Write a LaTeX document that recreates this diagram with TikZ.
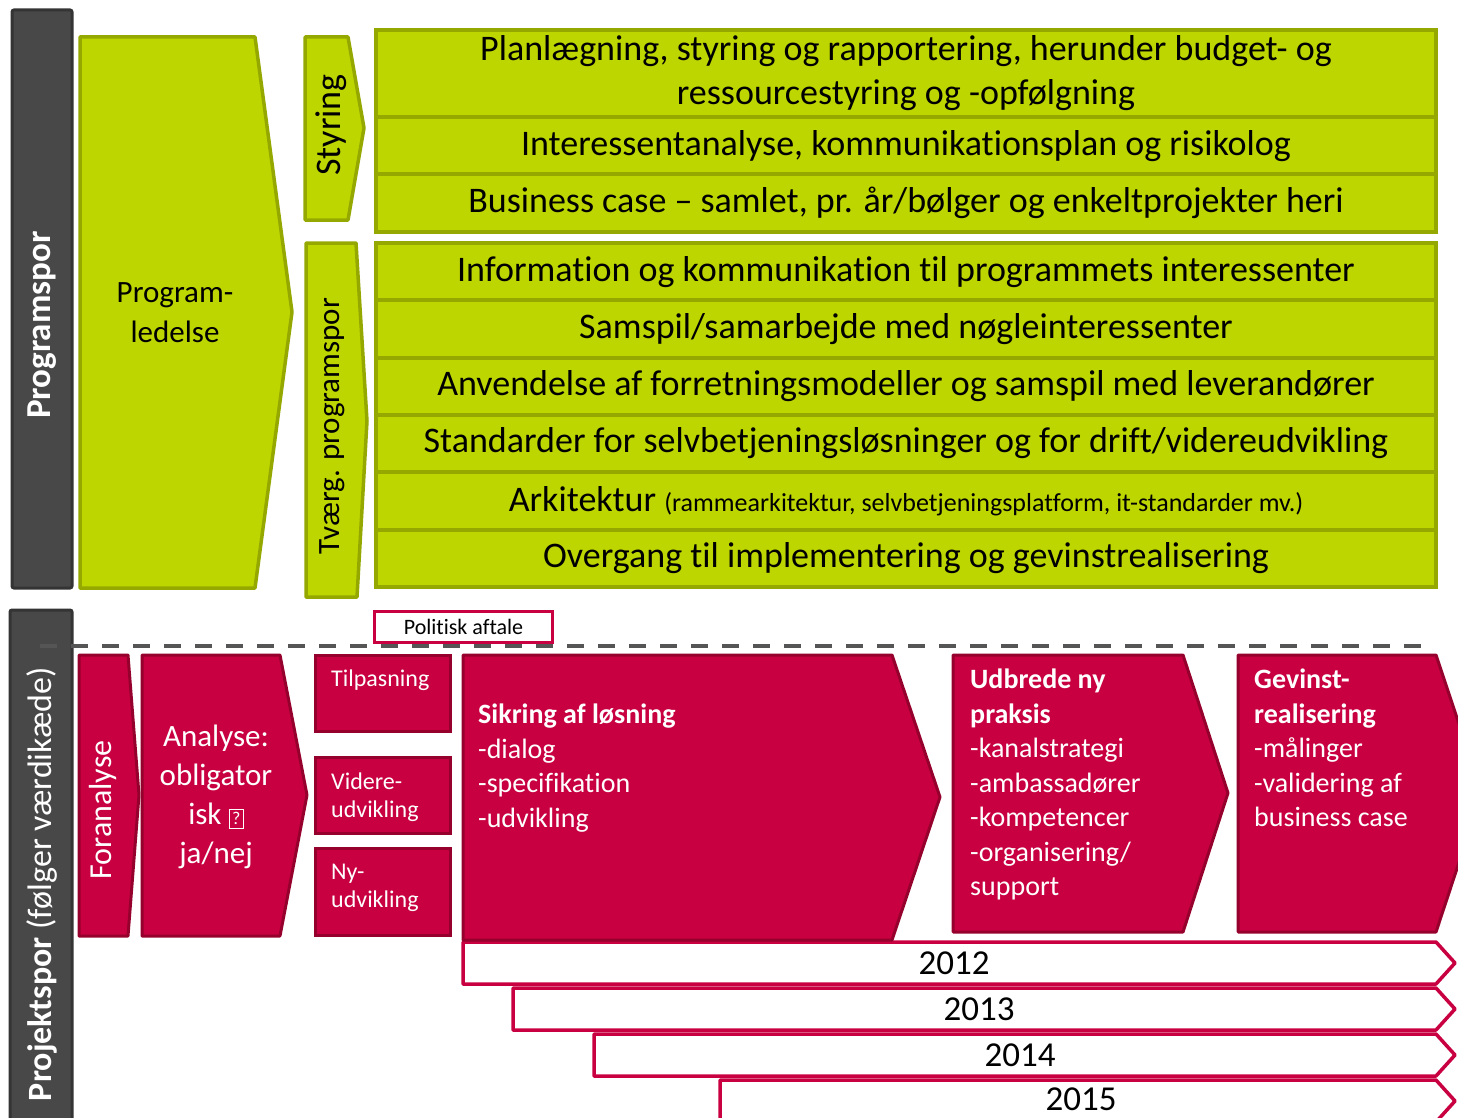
\documentclass[tikz,border=0pt]{standalone}
\usepackage{fontspec}
\setmainfont{Carlito}[Ligatures=CommonOff]
\usepackage{xcolor}
\usepackage{tikz}
\usetikzlibrary{positioning}

\definecolor{limefill}{RGB}{190,214,0}
\definecolor{limeline}{RGB}{148,168,0}
\definecolor{crimsonfill}{RGB}{200,0,65}
\definecolor{crimsonline}{RGB}{150,0,45}
\definecolor{bargray}{RGB}{72,72,72}
\definecolor{barline}{RGB}{52,52,52}
\definecolor{dashgray}{RGB}{85,85,85}

\begin{document}
\begin{tikzpicture}[x=1pt, y=-1pt,
    darkbar/.style={draw=barline, fill=bargray, line width=3pt, rounded corners=2pt},
    bartext/.style={rotate=90, text=white, inner sep=0pt, font=\fontsize{35}{35}\selectfont},
    greenrow/.style={rectangle, draw=limeline, fill=limefill, line width=4pt, outer sep=0pt, inner sep=0pt, minimum width=1060pt, minimum height=57.3pt, font=\fontsize{36}{44}\selectfont},
    greenarrow/.style={draw=limeline, fill=limefill, line width=3.5pt, line join=round},
    redarrow/.style={draw=crimsonline, fill=crimsonfill, line width=3pt, line join=round},
    redbox/.style={rectangle, draw=crimsonline, fill=crimsonfill, line width=3pt, outer sep=0pt, minimum width=135pt, anchor=north west},
    whitetext/.style={text=white, inner sep=0pt, align=left, anchor=north west, font=\fontsize{28}{34.5}\selectfont},
    smalltext/.style={text=white, inner sep=0pt, align=left, anchor=north west, font=\fontsize{24}{28}\selectfont},
    yearbar/.style={draw=crimsonfill, fill=white, line width=3.5pt, line join=round},
    yeartext/.style={inner sep=0pt, font=\fontsize{35}{35}\selectfont}
]
\clip (0,0) rectangle (1458,1118);

\draw[darkbar] (12,10) rectangle (72,588);
\draw[darkbar] (10,610) rectangle (72,1130);
\node[bartext] (programspor) at (42,325) {\textbf{Programspor}};
\node[bartext, font=\fontsize{34}{34}\selectfont] (projektspor) at (42,884) {\textbf{Projektspor} (følger værdikæde)};

\draw[greenarrow] (80,37) -- (255,37) -- (292,312) -- (255,588) -- (80,588) -- cycle;
\node[align=center, font=\fontsize{31}{40}\selectfont] (ledelse) at (175,313) {Program-\\ledelse};
\draw[greenarrow] (305,37) -- (348,37) -- (364,128) -- (348,220) -- (305,220) -- cycle;
\node[rotate=90, font=\fontsize{36}{36}\selectfont] (styring) at (331,125) {Styring};
\draw[greenarrow] (306,243) -- (356,243) -- (367,421) -- (357,597) -- (306,597) -- cycle;
\node[rotate=90, font=\fontsize{31}{31}\selectfont] (tvaerg) at (332,426) {Tværg. programspor};

\node[greenrow, minimum height=87pt, anchor=north west, align=center] (planlaeg) at (376,30) {Planlægning, styring og rapportering, herunder budget- og\\ressourcestyring og -opfølgning};
\node[greenrow, below=0pt of planlaeg] (interessent) {Interessentanalyse, kommunikationsplan og risikolog};
\node[greenrow, below=0pt of interessent] (business) {Business case -- samlet, pr. år/bølger og enkeltprojekter heri};
\node[greenrow, anchor=north west] (information) at (376,243) {Information og kommunikation til programmets interessenter};
\node[greenrow, below=0pt of information] (samspil) {Samspil/samarbejde med nøgleinteressenter};
\node[greenrow, below=0pt of samspil] (anvendelse) {Anvendelse af forretningsmodeller og samspil med leverandører};
\node[greenrow, below=0pt of anvendelse] (standarder) {Standarder for selvbetjeningsløsninger og for drift/videreudvikling};
\node[greenrow, below=0pt of standarder] (arkitektur) {Arkitektur {\fontsize{26}{26}\selectfont(rammearkitektur, selvbetjeningsplatform, it-standarder mv.)}};
\node[greenrow, below=0pt of arkitektur] (overgang) {Overgang til implementering og gevinstrealisering};

\coordinate (dashstart) at (40,646);
\coordinate (dashend) at (1432,646);
\draw[dashgray, line width=4pt, dash pattern=on 17pt off 14pt] (dashstart) -- (dashend);
\node[rectangle, draw=crimsonfill, fill=white, line width=3pt, minimum width=178pt, minimum height=31pt, anchor=north west, font=\fontsize{22}{22}\selectfont] (politisk) at (373,610) {Politisk aftale};

\draw[yearbar] (463,942) -- (1436,942) -- (1455,963) -- (1436,984) -- (463,984) -- cycle;
\draw[yearbar] (513,988) -- (1436,988) -- (1455,1009) -- (1436,1030) -- (513,1030) -- cycle;
\draw[yearbar] (594,1034) -- (1436,1034) -- (1455,1055) -- (1436,1076) -- (594,1076) -- cycle;
\draw[yearbar] (720,1080) -- (1436,1080) -- (1455,1101) -- (1436,1122) -- (720,1122) -- cycle;
\node[yeartext] (y2012) at (954,963) {2012};
\node[yeartext] (y2013) at (979,1009) {2013};
\node[yeartext] (y2014) at (1020,1055) {2014};
\node[yeartext] (y2015) at (1081,1099) {2015};

\draw[redarrow] (79,655) -- (128,655) -- (139,795) -- (128,936) -- (79,936) -- cycle;
\node[rotate=90, text=white, font=\fontsize{32}{32}\selectfont] (foranalyse) at (103,810) {Foranalyse};
\draw[redarrow] (142,655) -- (280,655) -- (307,795) -- (280,936) -- (142,936) -- cycle;
\node[align=center, text=white, font=\fontsize{31}{39}\selectfont] (analyse) at (216,797) {Analyse:\\obligator\\isk {\fontsize{18}{18}\selectfont\fbox{?}}\\ja/nej};

\node[redbox, minimum height=76pt] (tilpasning) at (315,655) {};
\node[redbox, minimum height=76pt] (videre) at (315,757) {};
\node[redbox, minimum height=87pt] (nyudvikling) at (315,848) {};
\node[smalltext] (tilpasningtxt) at (331,670) {Tilpasning};
\node[smalltext] (videretxt) at (331,773) {Videre-\\udvikling};
\node[smalltext] (nytxt) at (331,864) {Ny-\\udvikling};

\draw[redarrow] (463,655) -- (892,655) -- (940,797) -- (892,940) -- (463,940) -- cycle;
\node[whitetext] (sikring) at (478,704) {\textbf{Sikring af løsning}\\-dialog\\-specifikation\\-udvikling};
\draw[redarrow] (953,655) -- (1183,655) -- (1228,793) -- (1183,932) -- (953,932) -- cycle;
\node[whitetext] (udbrede) at (970,669) {\textbf{Udbrede ny}\\\textbf{praksis}\\-kanalstrategi\\-ambassadører\\-kompetencer\\-organisering/\\support};
\draw[redarrow] (1238,655) -- (1436,655) -- (1482,793) -- (1436,932) -- (1238,932) -- cycle;
\node[whitetext] (gevinst) at (1254,669) {\textbf{Gevinst-}\\\textbf{realisering}\\-målinger\\-validering af\\business case};
\end{tikzpicture}
\end{document}
